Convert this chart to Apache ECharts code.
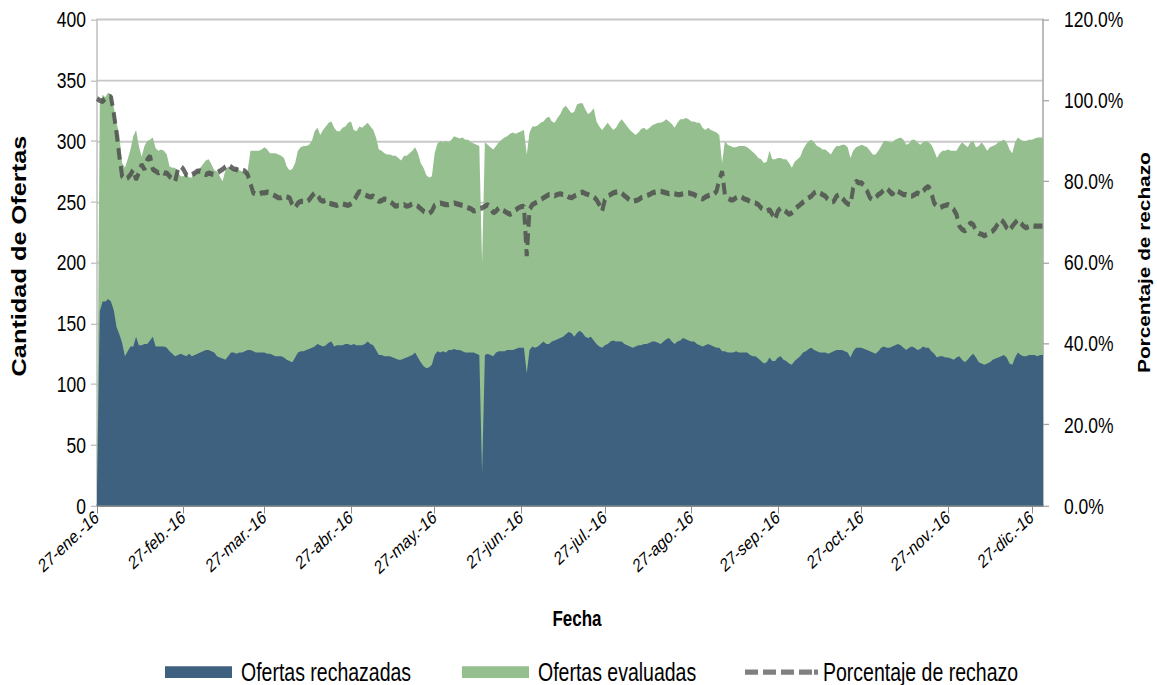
<!DOCTYPE html>
<html>
<head>
<meta charset="utf-8">
<title>Ofertas evaluadas y rechazadas 2016</title>
<script src="https://cdn.jsdelivr.net/npm/echarts@6/dist/echarts.min.js"></script>
<style>
  html, body { margin: 0; padding: 0; background: #fff; width: 1157px; height: 685px; }
  #page { width: 1157px; height: 685px; position: relative; }
  /* the reference is drawn taller than wide: render at 1157x527 and stretch vertically */
  #chart { position: absolute; left: 0; top: 0; width: 1157px; height: 527px; transform: scaleY(1.3); transform-origin: 0 0; }
</style>
</head>
<body>
<div id="page"><div id="chart"></div></div>
<script>
// first day of the series, one value per day
var startDate = '2016-01-27';
var monthAbbr = ['ene.', 'feb.', 'mar.', 'abr.', 'may.', 'jun.', 'jul.', 'ago.', 'sep.', 'oct.', 'nov.', 'dic.'];

var evaluadas = [
  30, 330, 338, 336, 340, 338, 328, 315, 305, 282,
  278, 285, 293, 304, 309, 296, 287, 296, 300, 301,
  303, 294, 292, 293, 292, 289, 279, 278, 278, 274,
  271, 271, 273, 270, 270, 274, 276, 278, 281, 284,
  285, 281, 276, 275, 271, 267, 276, 279, 278, 276,
  278, 276, 275, 274, 276, 292, 292, 292, 292, 293,
  295, 293, 290, 290, 290, 289, 288, 286, 279, 276,
  277, 282, 292, 295, 296, 296, 297, 300, 308, 311,
  305, 309, 312, 315, 316, 311, 308, 308, 311, 312,
  315, 316, 309, 308, 312, 311, 313, 315, 312, 309,
  303, 293, 292, 290, 289, 289, 288, 288, 286, 284,
  288, 288, 290, 292, 295, 290, 282, 278, 272, 270,
  271, 290, 298, 300, 299, 300, 299, 301, 304, 303,
  302, 303, 301, 301, 299, 298, 297, 296, 200, 299,
  297, 295, 293, 296, 299, 301, 303, 304, 306, 307,
  306, 307, 308, 309, 289, 307, 312, 312, 313, 315,
  316, 319, 320, 316, 315, 319, 322, 327, 329, 326,
  323, 324, 330, 331, 331, 326, 322, 324, 327, 316,
  312, 309, 312, 315, 312, 309, 311, 315, 318, 315,
  312, 309, 307, 305, 307, 310, 311, 309, 311, 313,
  314, 315, 315, 316, 318, 316, 314, 311, 315, 318,
  318, 319, 318, 316, 316, 315, 315, 311, 309, 311,
  309, 308, 307, 305, 282, 300, 297, 296, 295, 295,
  296, 296, 296, 295, 293, 291, 289, 286, 285, 282,
  283, 292, 285, 285, 286, 286, 285, 285, 282, 278,
  283, 285, 287, 293, 297, 300, 301, 299, 296, 295,
  293, 293, 291, 289, 293, 296, 296, 297, 297, 295,
  286, 292, 295, 296, 297, 296, 295, 292, 289, 289,
  292, 296, 300, 300, 299, 299, 301, 302, 303, 301,
  297, 298, 301, 301, 299, 297, 299, 300, 299, 297,
  292, 286, 290, 292, 292, 293, 292, 292, 292, 296,
  299, 297, 295, 299, 300, 295, 296, 299, 296, 292,
  295, 296, 297, 299, 300, 301, 299, 293, 290, 299,
  303, 301, 300, 300, 301, 301, 302, 303, 303, 303
];

var rechazadas = [
  16, 160, 168, 168, 170, 168, 161, 147, 141, 134,
  123, 127, 131, 131, 139, 132, 132, 133, 133, 136,
  139, 131, 131, 131, 131, 130, 127, 125, 123, 124,
  125, 124, 123, 125, 123, 124, 125, 126, 127, 128,
  128, 127, 126, 123, 122, 121, 120, 123, 126, 126,
  125, 126, 126, 127, 128, 128, 127, 126, 126, 126,
  126, 125, 125, 124, 123, 123, 123, 122, 120, 119,
  118, 122, 126, 127, 127, 128, 129, 130, 131, 133,
  132, 131, 132, 134, 135, 131, 132, 132, 132, 133,
  133, 132, 133, 132, 132, 132, 133, 135, 133, 132,
  128, 124, 124, 123, 123, 123, 122, 121, 120, 120,
  121, 122, 123, 124, 126, 122, 118, 115, 113, 114,
  116, 124, 127, 126, 127, 126, 128, 128, 129, 128,
  128, 127, 126, 126, 126, 126, 125, 124, 27, 124,
  125, 124, 123, 126, 127, 127, 127, 128, 128, 128,
  129, 130, 130, 130, 109, 128, 131, 130, 131, 133,
  135, 133, 133, 135, 136, 137, 138, 139, 141, 143,
  142, 139, 142, 144, 142, 139, 138, 139, 136, 133,
  131, 130, 132, 133, 135, 136, 135, 135, 135, 133,
  132, 131, 130, 131, 132, 132, 133, 133, 134, 135,
  135, 134, 133, 135, 137, 138, 135, 133, 135, 136,
  138, 137, 136, 135, 135, 133, 132, 131, 132, 133,
  132, 131, 130, 130, 127, 127, 126, 126, 126, 127,
  126, 126, 126, 126, 124, 123, 123, 121, 119, 117,
  118, 122, 119, 119, 122, 123, 120, 119, 117, 116,
  119, 121, 123, 126, 127, 129, 130, 128, 127, 126,
  126, 126, 125, 126, 127, 128, 128, 128, 127, 126,
  122, 127, 130, 130, 130, 129, 128, 127, 126, 125,
  127, 130, 131, 130, 130, 131, 132, 133, 132, 130,
  128, 130, 131, 130, 128, 129, 131, 130, 130, 127,
  125, 122, 123, 123, 122, 122, 121, 120, 122, 123,
  120, 118, 120, 123, 125, 122, 118, 117, 116, 117,
  118, 120, 121, 122, 123, 124, 122, 117, 116, 122,
  126, 124, 123, 123, 124, 124, 124, 123, 124, 124
];

// porcentaje de rechazo, in %
var porcentaje = [
  100.5, 100, 99.8, 100.5, 101, 101, 97, 92, 86.3, 81.3,
  80.5, 80.9, 81.7, 83, 80.5, 82.1, 84.2, 83, 85.4, 86.3,
  83, 82.6, 82.1, 82.6, 82.1, 82.1, 81.3, 80.5, 80.1, 83,
  83.8, 83, 81.7, 81.3, 81.7, 82.1, 82.6, 82.6, 82.1, 81.7,
  82.1, 81.9, 81.7, 82.1, 82.6, 83, 83.6, 84.2, 83.6, 83.1,
  83, 82.6, 82.8, 82.6, 81.7, 79.5, 77.2, 76.8, 76.8, 77.2,
  77.2, 77.4, 77.2, 76.8, 76.4, 76, 76, 76.4, 76.2, 76,
  74.3, 73.5, 74.7, 75.1, 75.1, 74.9, 75.5, 76.4, 77.2, 76.8,
  75.5, 75.1, 75.5, 74.7, 74.5, 74.3, 74.1, 74.5, 74.5, 74.3,
  74.1, 74.5, 75.1, 76.5, 77.6, 77.2, 76.8, 76.4, 76.2, 76.4,
  75.7, 75.1, 75.3, 75.7, 75.5, 75.1, 74.5, 73.9, 74.1, 74.1,
  74.3, 73.9, 74.1, 74.5, 74.3, 73.9, 73.3, 72.7, 72.3, 72.1,
  72.7, 74.1, 74.5, 74.7, 74.5, 74.3, 74.3, 74.5, 74.7, 74.5,
  74.3, 74.1, 73.8, 73.5, 73.3, 72.7, 73, 73.3, 73.5, 73.9,
  74.3, 73.5, 72.3, 72.7, 73.5, 73.1, 72.7, 72.3, 71.9, 72.3,
  73, 73.5, 73.8, 73.9, 61.6, 73.1, 74.3, 74.7, 75.1, 75.5,
  76, 76.4, 76.8, 76.8, 76.5, 76.8, 77, 76.8, 76.8, 76.2,
  76, 76.4, 76.8, 77.2, 77.4, 77, 76.8, 76.4, 76.2, 75.5,
  74.3, 72.7, 75.5, 76.4, 76.8, 77.2, 77.4, 77.6, 77.2, 76.5,
  76, 75.3, 75.1, 75.3, 75.5, 76, 76.2, 76.5, 76.8, 77.2,
  77.4, 77.6, 77.6, 77.4, 77.2, 77, 77.2, 77, 76.8, 76.8,
  77, 77.2, 77.2, 77, 76.8, 76.4, 76, 75.7, 76.2, 76.5,
  76.8, 76.8, 77.6, 80.5, 82.5, 76.8, 76, 75.5, 75.5, 76,
  76.4, 76.2, 75.7, 75.5, 75.1, 74.9, 74.7, 74.3, 73.5, 73,
  72.7, 73.1, 71.9, 70.6, 72.7, 73.5, 73.1, 72.5, 71.9, 72.3,
  73.1, 73.8, 74.3, 74.9, 75.5, 76, 76.4, 77.2, 77.6, 77.2,
  76.8, 76.4, 75.5, 74.9, 75.1, 76.4, 76.8, 76, 75.1, 74.5,
  74.3, 78.4, 80.1, 79.7, 79.7, 78.8, 77.6, 76, 75.5, 76,
  76.8, 77.2, 78, 78.4, 77.6, 76.8, 78, 77.6, 77.2, 76.8,
  76.8, 76.4, 76.4, 76.8, 77.2, 76.8, 77.6, 78.4, 78.8, 77.2,
  74.7, 73.9, 73.5, 73.9, 74.1, 74.3, 73.9, 73.1, 71.9, 69,
  68.2, 67.8, 68.6, 69.8, 69.4, 67.8, 67.2, 67, 66.6, 67,
  67.4, 67.8, 68.6, 69.8, 70.6, 69.8, 68.6, 67.8, 69, 69.8,
  70.6, 69.8, 69, 68.6, 69, 69.2, 69, 69, 69, 69
];

// daily category labels (YYYY-MM-DD)
var fechas = [];
(function () {
  var t0 = Date.parse(startDate + 'T00:00:00Z');
  for (var i = 0; i < evaluadas.length; i++) {
    fechas.push(new Date(t0 + i * 86400000).toISOString().slice(0, 10));
  }
})();

function isTickDay(index, value) {
  return value.slice(8, 10) === '27';
}

var FONT = '"Liberation Sans", Arial, sans-serif';
var BLUE = '#3f6180';
var GREEN = '#95bf8f';
var LINE = '#4f4f4f';
// legend key for the dashed line: four dashes and a dot
var DASH_ICON = 'path://M0,0h13v4h-13z M18,0h13v4h-13z M36,0h13v4h-13z M54,0h13v4h-13z M69,0h4v4h-4z';

var myChart = echarts.init(document.getElementById('chart'), null, { renderer: 'svg' });

var option = {
  animation: false,
  textStyle: { fontFamily: FONT, color: '#000' },
  grid: { left: 97, right: 114, top: 15, bottom: 138, containLabel: false, outerBoundsMode: 'none' },
  legend: [
    {
      left: 160, top: 502, itemWidth: 67, itemHeight: 9,
      data: [{ name: 'Ofertas rechazadas', icon: 'rect' }],
      textStyle: { fontFamily: FONT, fontSize: 19.5, color: '#000', padding: [0, 0, 0, 4] }
    },
    {
      left: 457, top: 502, itemWidth: 67, itemHeight: 9,
      data: [{ name: 'Ofertas evaluadas', icon: 'rect' }],
      textStyle: { fontFamily: FONT, fontSize: 19.5, color: '#000', padding: [0, 0, 0, 4] }
    },
    {
      left: 740, top: 502, itemWidth: 73, itemHeight: 4,
      data: [{ name: 'Porcentaje de rechazo', icon: DASH_ICON, itemStyle: { color: '#808080', opacity: 1 } }],
      textStyle: { fontFamily: FONT, fontSize: 19.5, color: '#000' }
    }
  ],
  xAxis: {
    type: 'category',
    data: fechas,
    boundaryGap: false,
    name: 'Fecha',
    nameLocation: 'middle',
    nameGap: 78,
    nameTextStyle: { fontFamily: FONT, fontSize: 17, fontWeight: 'bold', color: '#000', padding: [0, 0, 0, 14] },
    axisLine: { lineStyle: { color: '#8c8c8c', width: 2 } },
    axisTick: { interval: isTickDay, length: 6, lineStyle: { color: '#8c8c8c' } },
    axisLabel: {
      interval: isTickDay,
      rotate: 36,
      margin: 7,
      fontSize: 14.5,
      color: '#000',
      formatter: function (v) {
        return v.slice(8, 10) + '-' + monthAbbr[parseInt(v.slice(5, 7), 10) - 1] + '-' + v.slice(2, 4);
      }
    },
    splitLine: { show: false }
  },
  yAxis: [
    {
      type: 'value',
      min: 0, max: 400, interval: 50,
      name: 'Cantidad de Ofertas',
      nameLocation: 'middle',
      nameRotate: 90,
      nameGap: 67,
      nameTextStyle: { fontFamily: FONT, fontSize: 19.5, fontWeight: 'bold', color: '#000', padding: [0, 0, 0, 10] },
      axisLine: { show: true, lineStyle: { color: '#bfbfbf', width: 1.5 } },
      axisTick: { show: true, length: 6, lineStyle: { color: '#bfbfbf' } },
      axisLabel: { fontSize: 17.5, color: '#000', margin: 11 },
      splitLine: { show: true, lineStyle: { color: '#c8c8c8', width: 1.5 } }
    },
    {
      type: 'value',
      min: 0, max: 120, interval: 20,
      name: 'Porcentaje de rechazo',
      nameLocation: 'middle',
      nameRotate: 90,
      nameGap: 93,
      nameTextStyle: { fontFamily: FONT, fontSize: 16, fontWeight: 'bold', color: '#000' },
      axisLine: { show: true, lineStyle: { color: '#a6a6a6', width: 1.5 } },
      axisTick: { show: true, length: 6, lineStyle: { color: '#a6a6a6' } },
      axisLabel: {
        fontSize: 17.5, color: '#000', margin: 21,
        formatter: function (v) { return v.toFixed(1) + '%'; }
      },
      splitLine: { show: false }
    }
  ],
  series: [
    {
      name: 'Ofertas evaluadas',
      type: 'line',
      data: evaluadas,
      symbol: 'none',
      itemStyle: { color: GREEN },
      lineStyle: { width: 0 },
      areaStyle: { color: GREEN, opacity: 1 }
    },
    {
      name: 'Ofertas rechazadas',
      type: 'line',
      data: rechazadas,
      symbol: 'none',
      itemStyle: { color: BLUE },
      lineStyle: { width: 0 },
      areaStyle: { color: BLUE, opacity: 1 }
    },
    {
      name: 'Porcentaje de rechazo',
      type: 'line',
      yAxisIndex: 1,
      data: porcentaje,
      symbol: 'none',
      itemStyle: { color: LINE },
      lineStyle: { color: LINE, width: 4, type: [9, 5], opacity: 0.85 }
    }
  ]
};

myChart.setOption(option);
</script>
</body>
</html>
